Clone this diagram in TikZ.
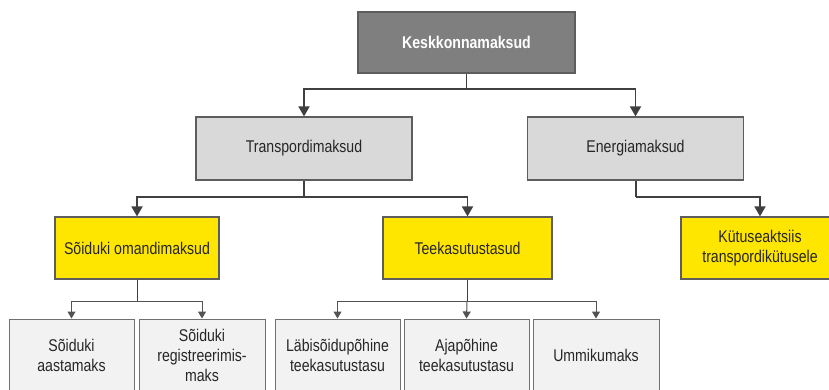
\documentclass[tikz,border=0pt]{standalone}
\usepackage{fontspec}
\setmainfont[FakeStretch=0.83]{Liberation Sans}
\usetikzlibrary{arrows.meta}
\definecolor{topgray}{HTML}{7F7F7F}
\definecolor{midgray}{HTML}{D9D9D9}
\definecolor{lowgray}{HTML}{F2F2F2}
\definecolor{taxyellow}{HTML}{FFE600}
\definecolor{linegray}{HTML}{404040}
\begin{document}
\begin{tikzpicture}[x=1pt, y=-1pt,
    box/.style = {draw=linegray!85, line width=1.2pt, align=center, inner sep=0pt, font=\fontsize{17}{20}\selectfont, text=black!85},
    topbox/.style = {box, fill=topgray, text=white, font=\bfseries\fontsize{17}{20}\selectfont, minimum width=217pt, minimum height=61pt},
    midbox/.style = {box, fill=midgray, minimum width=216pt, minimum height=63pt},
    yelbox/.style = {box, fill=taxyellow, minimum height=62pt},
    lowbox/.style = {box, draw=linegray!75, line width=1pt, fill=lowgray, minimum width=125pt, minimum height=72pt},
    conn/.style = {draw=linegray, line width=1.8pt, -{Triangle[length=10pt,width=11pt]}},
    thinconn/.style = {draw=linegray!90, line width=1pt, -{Triangle[length=7pt,width=8pt]}}]
        \useasboundingbox (0,0) rectangle (829,389);
        \clip (0,0) rectangle (829,389);
        \node[topbox] (kesk) at (466.5,42.5) {Keskkonnamaksud};
        \node[midbox] (transp) at (304,148.5) {Transpordimaksud};
        \node[midbox] (energ) at (635.5,148.5) {Energiamaksud};
        \node[yelbox, minimum width=164pt] (omand) at (137,248) {Sõiduki omandimaksud};
        \node[yelbox, minimum width=169pt] (teek) at (467.5,248) {Teekasutustasud};
        \node[yelbox, minimum width=158pt] (kytus) at (760,248) {Kütuseaktsiis\\transpordikütusele};
        \node[lowbox] (aasta) at (71.5,355) {Sõiduki\\aastamaks};
        \node[lowbox, minimum width=126pt] (regis) at (202,355) {Sõiduki\\registreerimis-\\maks};
        \node[lowbox] (labis) at (337.5,355) {Läbisõidupõhine\\teekasutustasu};
        \node[lowbox] (ajap) at (466.5,355) {Ajapõhine\\teekasutustasu};
        \node[lowbox, minimum width=126pt] (ummik) at (596,355) {Ummikumaks};
        \coordinate (j1) at (466.5,89);
        \coordinate (j2) at (304,197);
        \coordinate (j3) at (636,197);
        \coordinate (j4) at (137,301);
        \coordinate (j5) at (467,301);
        \draw[line width=1.8pt, linegray] (kesk.south) -- (j1);
        \draw[conn] (j1) -| (transp.north);
        \draw[conn] (j1) -| (energ.north);
        \draw[line width=1.8pt, linegray] (transp.south) -- (j2);
        \draw[conn] (j2) -| (omand.north);
        \draw[conn] (j2) -| (teek.north);
        \draw[line width=1.8pt, linegray] (energ.south -| j3) -- (j3);
        \draw[conn] (j3) -| (kytus.north);
        \draw[line width=1pt, linegray] (omand.south) -- (j4);
        \draw[thinconn] (j4) -| (aasta.north);
        \draw[thinconn] (j4) -| (regis.north);
        \draw[line width=1pt, linegray] (teek.south -| j5) -- (j5);
        \draw[thinconn] (j5) -| (labis.north);
        \draw[thinconn] (j5) -- (ajap.north);
        \draw[thinconn] (j5) -| (ummik.north);
    \end{tikzpicture}
\end{document}
